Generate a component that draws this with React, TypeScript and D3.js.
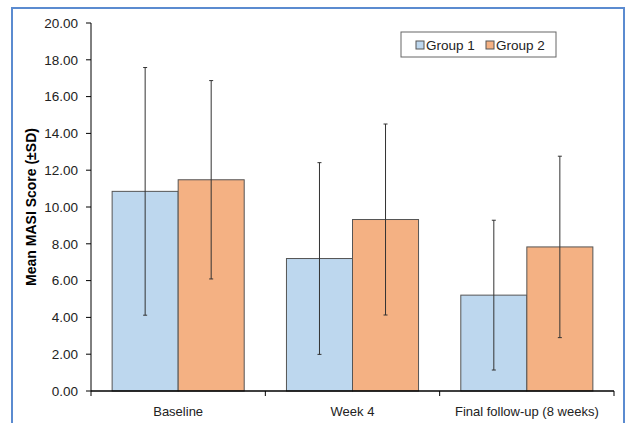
import React from "react";
import * as d3 from "d3";

const categories = ["Baseline", "Week 4", "Final follow-up (8 weeks)"];
const seriesNames = ["Group 1", "Group 2"];
const group1Mean = [10.85, 7.2, 5.21];
const group1SD = [6.73, 5.21, 4.07];
const group2Mean = [11.48, 9.32, 7.83];
const group2SD = [5.39, 5.19, 4.93];
const yTicks = [0, 2, 4, 6, 8, 10, 12, 14, 16, 18, 20];
const colors = ["#BDD7EE", "#F4B183"];

const W = 627;
const H = 423;

export default function App() {
  const x0 = d3.scaleBand<string>().domain(categories).range([91, 614]).paddingInner(0).paddingOuter(0);
  const x1 = d3.scaleBand<string>().domain(seriesNames).range([0, x0.bandwidth()]).paddingOuter(0.32).paddingInner(0);
  const y = d3.scaleLinear().domain([0, 20]).range([391, 23]);

  const series = [
    { name: seriesNames[0], mean: group1Mean, sd: group1SD, color: colors[0] },
    { name: seriesNames[1], mean: group2Mean, sd: group2SD, color: colors[1] },
  ];

  const font = "'Liberation Sans', Arial, sans-serif";

  return (
    <svg width={W} height={H} style={{ position: "absolute", left: 0, top: 0 }} fontFamily={font}>
      <rect x={0} y={0} width={W} height={H} fill="#fff" />
      <rect x={12} y={8} width={612} height={430} fill="#fff" stroke="#5B8BD0" strokeWidth={2} />
      {/* y label */}
      <text
        transform={`translate(36,${(y(0) + y(20)) / 2}) rotate(-90)`}
        textAnchor="middle"
        fontSize={14}
        fontWeight="bold"
        fill="#000"
      >
        Mean MASI Score (±SD)
      </text>
      {/* y ticks */}
      {yTicks.map((t) => (
        <g key={t}>
          <line x1={86} x2={91} y1={y(t)} y2={y(t)} stroke="#000" strokeWidth={1} />
          <text x={78} y={y(t)} dy="0.35em" textAnchor="end" fontSize={13.5} fill="#222">
            {t.toFixed(2)}
          </text>
        </g>
      ))}
      {/* bars */}
      {categories.map((c, i) =>
        series.map((s) => {
          const bx = (x0(c) ?? 0) + (x1(s.name) ?? 0);
          const bw = x1.bandwidth();
          return (
            <rect
              key={c + s.name}
              x={bx}
              y={y(s.mean[i])}
              width={bw}
              height={y(0) - y(s.mean[i])}
              fill={s.color}
              stroke="#555"
              strokeWidth={1}
            />
          );
        })
      )}
      {/* error bars */}
      {categories.map((c, i) =>
        series.map((s) => {
          const cx = (x0(c) ?? 0) + (x1(s.name) ?? 0) + x1.bandwidth() / 2;
          const top = y(s.mean[i] + s.sd[i]);
          const bot = y(s.mean[i] - s.sd[i]);
          return (
            <g key={"e" + c + s.name} stroke="#333" strokeWidth={1}>
              <line x1={cx} x2={cx} y1={top} y2={bot} />
              <line x1={cx - 2} x2={cx + 2} y1={top} y2={top} />
              <line x1={cx - 2} x2={cx + 2} y1={bot} y2={bot} />
            </g>
          );
        })
      )}
      {/* axes lines */}
      <line x1={91} x2={91} y1={y(20)} y2={y(0)} stroke="#000" strokeWidth={1} />
      <line x1={91} x2={614} y1={y(0)} y2={y(0)} stroke="#000" strokeWidth={1.5} />
      {[...categories.map((c) => x0(c) ?? 0), 614].map((xx, i) => (
        <line key={"xt" + i} x1={xx} x2={xx} y1={y(0)} y2={y(0) + 5} stroke="#000" strokeWidth={1} />
      ))}
      {categories.map((c) => (
        <text
          key={"xl" + c}
          x={(x0(c) ?? 0) + x0.bandwidth() / 2}
          y={416}
          textAnchor="middle"
          fontSize={13}
          fill="#222"
        >
          {c}
        </text>
      ))}
      {/* legend */}
      <rect x={401} y={32} width={155} height={25} fill="#fff" stroke="#666" strokeWidth={1} />
      {series.map((s, i) => {
        const lx = i === 0 ? 416 : 486;
        return (
          <g key={"lg" + s.name}>
            <rect x={lx} y={41} width={8} height={8} fill={s.color} stroke="#555" strokeWidth={1} />
            <text x={lx + 10} y={45} dy="0.35em" fontSize={13.5} fill="#222">
              {s.name}
            </text>
          </g>
        );
      })}
    </svg>
  );
}
